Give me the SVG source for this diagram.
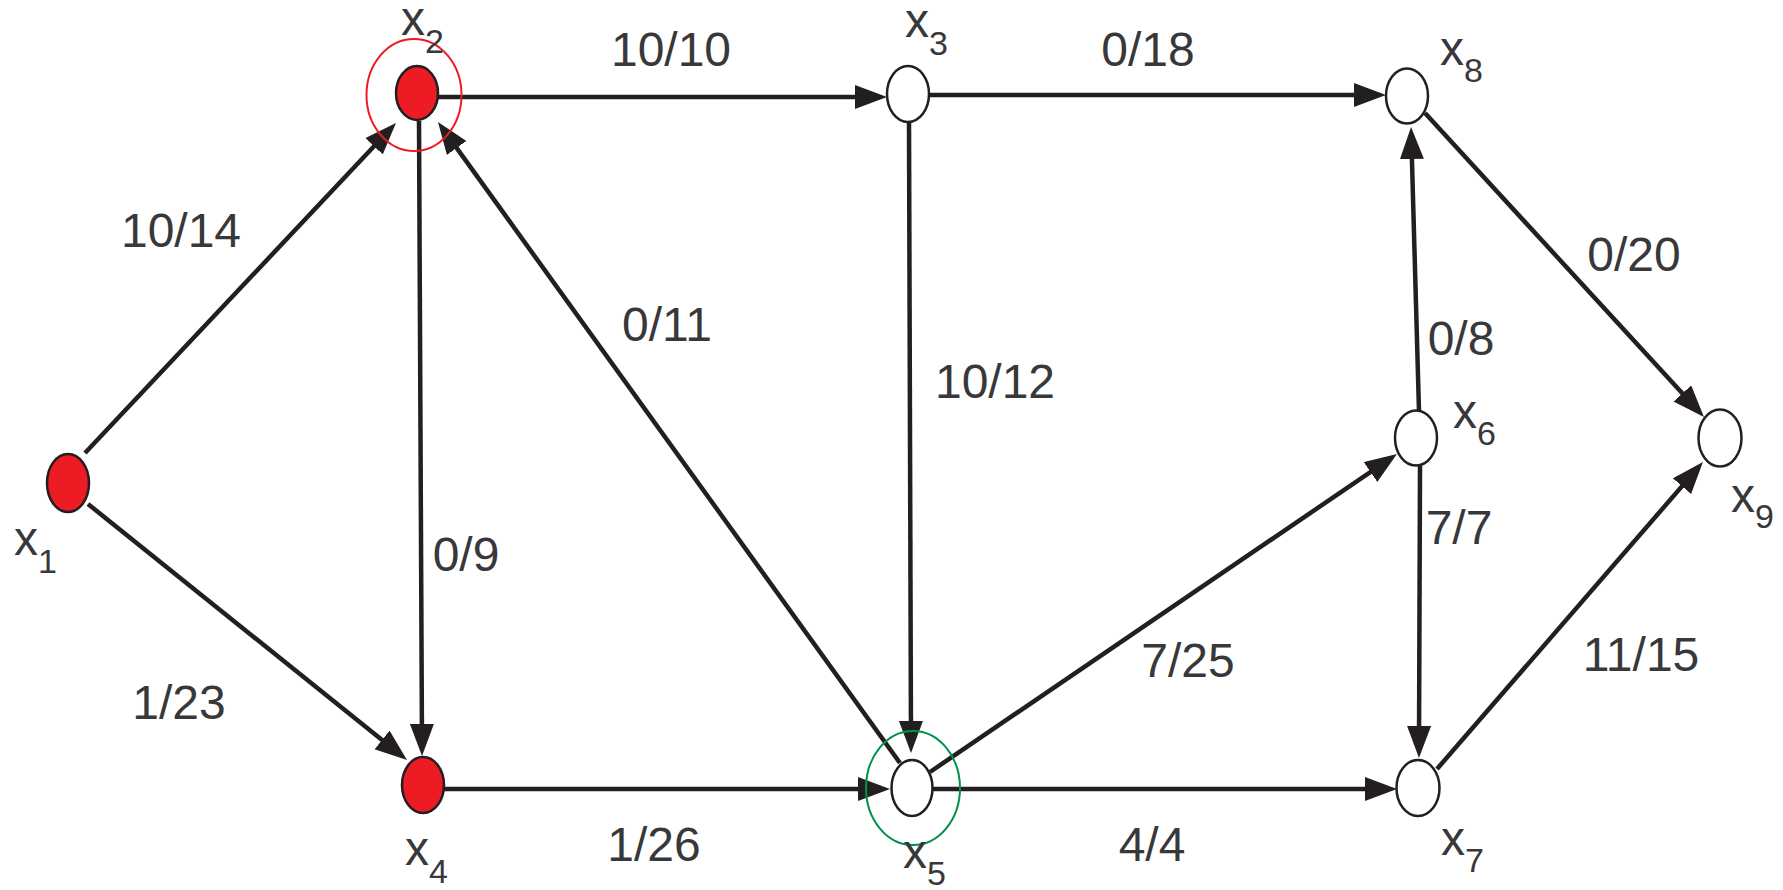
<svg xmlns="http://www.w3.org/2000/svg" width="1783" height="890" viewBox="0 0 1783 890">
<style>
.edge{stroke:#231f20;stroke-width:4.5;fill:none;marker-end:url(#arr)}
.node{stroke:#231f20;stroke-width:2.5;fill:#ffffff}
.src{fill:#ed1c24}
.lbl{font-family:"Liberation Sans",Arial,sans-serif;font-size:48px;fill:#38383a}
.el{font-family:"Liberation Sans",Arial,sans-serif;font-size:48px;fill:#38383a;text-anchor:middle}
.sub{font-size:34px}
</style>
<defs>
<marker id="arr" markerUnits="userSpaceOnUse" markerWidth="34" markerHeight="26" refX="22" refY="12" orient="auto" viewBox="0 0 34 26">
<path d="M0,0 L32,12 L0,24 z" fill="#231f20"/>
</marker>
</defs>
<rect width="1783" height="890" fill="#ffffff"/>
<g id="connectors">
<line class="edge" x1="85" y1="453" x2="389.1" y2="130.3"/>
<line class="edge" x1="88" y1="504" x2="399.2" y2="753.7"/>
<line class="edge" x1="437" y1="97" x2="877" y2="97"/>
<line class="edge" x1="929" y1="95" x2="1376" y2="95"/>
<line class="edge" x1="419" y1="121" x2="422" y2="746"/>
<line class="edge" x1="900" y1="763" x2="443.8" y2="130.1"/>
<line class="edge" x1="909" y1="122" x2="911" y2="743"/>
<line class="edge" x1="444" y1="789" x2="880" y2="789"/>
<line class="edge" x1="933" y1="789" x2="1387" y2="789"/>
<line class="edge" x1="930" y1="772" x2="1388.7" y2="459.6"/>
<line class="edge" x1="1419" y1="411" x2="1411.3" y2="137"/>
<line class="edge" x1="1420" y1="466" x2="1419" y2="748"/>
<line class="edge" x1="1425" y1="113" x2="1697.2" y2="409.6"/>
<line class="edge" x1="1437" y1="769" x2="1696.4" y2="469.6"/>
</g>
<g id="edge-labels">
<text class="el" x="181" y="247">10/14</text>
<text class="el" x="179" y="719">1/23</text>
<text class="el" x="671" y="66">10/10</text>
<text class="el" x="1148" y="66">0/18</text>
<text class="el" x="1634" y="271">0/20</text>
<text class="el" x="667" y="341">0/11</text>
<text class="el" x="995" y="398">10/12</text>
<text class="el" x="1461" y="355">0/8</text>
<text class="el" x="466" y="571">0/9</text>
<text class="el" x="1459" y="544">7/7</text>
<text class="el" x="1188" y="677">7/25</text>
<text class="el" x="1641" y="671">11/15</text>
<text class="el" x="654" y="861">1/26</text>
<text class="el" x="1152" y="861">4/4</text>
</g>
<g id="x1">
<ellipse class="node src" cx="68" cy="483" rx="21" ry="29"/>
<text class="lbl" x="14" y="555">x<tspan class="sub" dy="18">1</tspan></text>
</g>
<g id="x2">
<ellipse class="node src" cx="417" cy="93" rx="21" ry="27"/>
<ellipse cx="414" cy="95" rx="47.5" ry="56" fill="none" stroke="#ed1c24" stroke-width="2"/>
<text class="lbl" x="401" y="35">x<tspan class="sub" dy="18">2</tspan></text>
</g>
<g id="x3">
<ellipse class="node" cx="908" cy="94" rx="21" ry="28"/>
<text class="lbl" x="905" y="37">x<tspan class="sub" dy="18">3</tspan></text>
</g>
<g id="x4">
<ellipse class="node src" cx="423" cy="785" rx="21" ry="28"/>
<text class="lbl" x="405" y="865">x<tspan class="sub" dy="18">4</tspan></text>
</g>
<g id="x5">
<ellipse class="node" cx="912" cy="788" rx="20.5" ry="28"/>
<ellipse cx="913" cy="788" rx="47" ry="57" fill="none" stroke="#00924a" stroke-width="2"/>
<text class="lbl" x="903" y="868">x<tspan class="sub" dy="17">5</tspan></text>
</g>
<g id="x6">
<ellipse class="node" cx="1416" cy="438" rx="21" ry="27.5"/>
<text class="lbl" x="1453" y="428">x<tspan class="sub" dy="17">6</tspan></text>
</g>
<g id="x7">
<ellipse class="node" cx="1418" cy="788" rx="21.5" ry="28"/>
<text class="lbl" x="1441" y="855">x<tspan class="sub" dy="17">7</tspan></text>
</g>
<g id="x8">
<ellipse class="node" cx="1407" cy="96" rx="21" ry="27.5"/>
<text class="lbl" x="1440" y="65">x<tspan class="sub" dy="17">8</tspan></text>
</g>
<g id="x9">
<ellipse class="node" cx="1720" cy="438" rx="21.5" ry="28.5"/>
<text class="lbl" x="1731" y="512">x<tspan class="sub" dy="16">9</tspan></text>
</g>
</svg>
